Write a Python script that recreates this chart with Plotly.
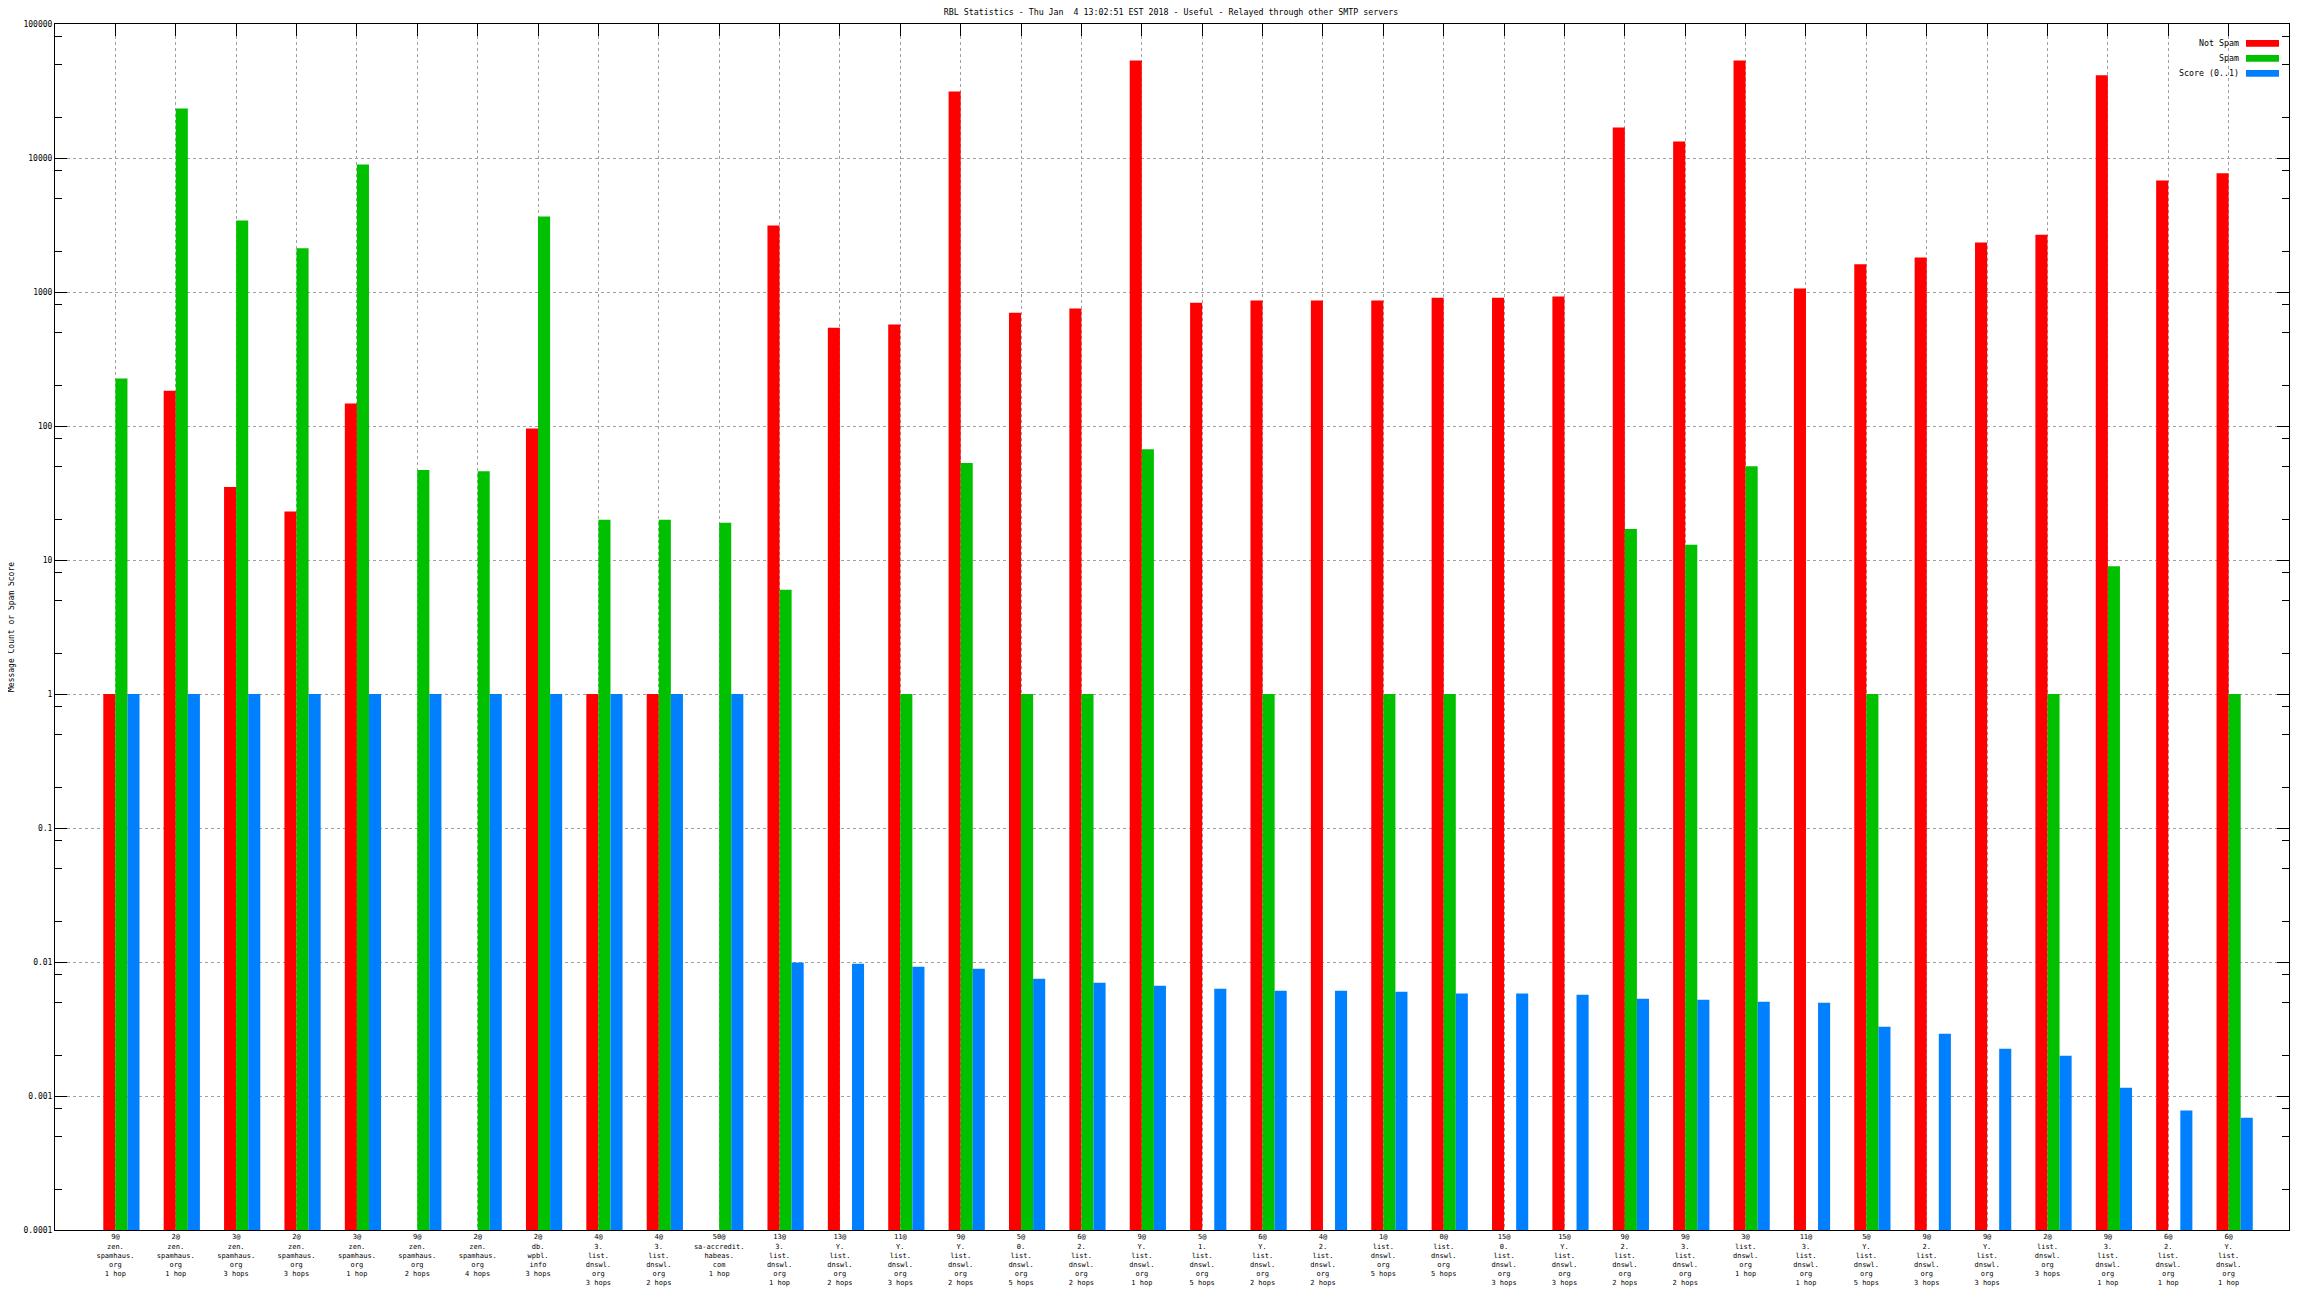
import plotly.graph_objects as go

# ---- data ----
categories = [
    "9@<br>zen.<br>spamhaus.<br>org<br>1 hop",
    "2@<br>zen.<br>spamhaus.<br>org<br>1 hop",
    "3@<br>zen.<br>spamhaus.<br>org<br>3 hops",
    "2@<br>zen.<br>spamhaus.<br>org<br>3 hops",
    "3@<br>zen.<br>spamhaus.<br>org<br>1 hop",
    "9@<br>zen.<br>spamhaus.<br>org<br>2 hops",
    "2@<br>zen.<br>spamhaus.<br>org<br>4 hops",
    "2@<br>db.<br>wpbl.<br>info<br>3 hops",
    "4@<br>3.<br>list.<br>dnswl.<br>org<br>3 hops",
    "4@<br>3.<br>list.<br>dnswl.<br>org<br>2 hops",
    "50@<br>sa-accredit.<br>habeas.<br>com<br>1 hop",
    "13@<br>3.<br>list.<br>dnswl.<br>org<br>1 hop",
    "13@<br>Y.<br>list.<br>dnswl.<br>org<br>2 hops",
    "11@<br>Y.<br>list.<br>dnswl.<br>org<br>3 hops",
    "9@<br>Y.<br>list.<br>dnswl.<br>org<br>2 hops",
    "5@<br>0.<br>list.<br>dnswl.<br>org<br>5 hops",
    "6@<br>2.<br>list.<br>dnswl.<br>org<br>2 hops",
    "9@<br>Y.<br>list.<br>dnswl.<br>org<br>1 hop",
    "5@<br>1.<br>list.<br>dnswl.<br>org<br>5 hops",
    "6@<br>Y.<br>list.<br>dnswl.<br>org<br>2 hops",
    "4@<br>2.<br>list.<br>dnswl.<br>org<br>2 hops",
    "1@<br>list.<br>dnswl.<br>org<br>5 hops",
    "0@<br>list.<br>dnswl.<br>org<br>5 hops",
    "15@<br>0.<br>list.<br>dnswl.<br>org<br>3 hops",
    "15@<br>Y.<br>list.<br>dnswl.<br>org<br>3 hops",
    "9@<br>2.<br>list.<br>dnswl.<br>org<br>2 hops",
    "9@<br>3.<br>list.<br>dnswl.<br>org<br>2 hops",
    "3@<br>list.<br>dnswl.<br>org<br>1 hop",
    "11@<br>3.<br>list.<br>dnswl.<br>org<br>1 hop",
    "5@<br>Y.<br>list.<br>dnswl.<br>org<br>5 hops",
    "9@<br>2.<br>list.<br>dnswl.<br>org<br>3 hops",
    "9@<br>Y.<br>list.<br>dnswl.<br>org<br>3 hops",
    "2@<br>list.<br>dnswl.<br>org<br>3 hops",
    "9@<br>3.<br>list.<br>dnswl.<br>org<br>1 hop",
    "6@<br>2.<br>list.<br>dnswl.<br>org<br>1 hop",
    "6@<br>Y.<br>list.<br>dnswl.<br>org<br>1 hop",
]

not_spam = [1, 183, 35, 23, 147, None, None, 96, 1, 1,
            None, 3140, 542, 571, 31400, 701, 754, 53500, 832, 865,
            865, 865, 906, 906, 924, 16900, 13300, 53500, 1060, 1610,
            1810, 2340, 2680, 41400, 6780, 7690]

spam = [226, 23400, 3420, 2120, 8940, 47, 46, 3660, 20, 20,
        19, 6, None, 1, 53, 1, 1, 67, None, 1,
        None, 1, 1, None, None, 17, 13, 50, None, 1,
        None, None, 1, 9, None, 1]

score = [1, 1, 1, 1, 1, 1, 1, 1, 1, 1,
         1, 0.0099, 0.00972, 0.00923, 0.00892, 0.00751, 0.00701, 0.00666, 0.00632, 0.0061,
         0.0061, 0.00601, 0.00581, 0.00581, 0.0057, 0.00532, 0.00523, 0.00506, 0.00497, 0.00329,
         0.00292, 0.00225, 0.002, 0.00115, 0.000778, 0.000689]

series_names = ["Not Spam", "Spam", "Score (0..1)"]
series_colors = ["#ff0000", "#00c000", "#0080ff"]

ytick_vals = [0.0001, 0.001, 0.01, 0.1, 1, 10, 100, 1000, 10000, 100000]
ytick_text = ["0.0001", "0.001", "0.01", "0.1", "1", "10", "100", "1000", "10000", "100000"]
yminor_vals = [m * v for v in ytick_vals[:-1] for m in (2, 5, 8)]

title_text = "RBL Statistics - Thu Jan  4 13:02:51 EST 2018 - Useful - Relayed through other SMTP servers"
ytitle_text = "Message Count or Spam Score"

FONT = "DejaVu Sans Mono"
W, H = 2304, 1296
OFF = 8  # the page body margin shifts the figure; positions below are in page pixels
PL, PR, PT, PB = 55, 2289, 24, 1230   # plot-area edges in page pixels
ML, MR, MT, MB = PL - OFF, W - (PR - OFF), PT - OFF, H - (PB - OFF)
pw, ph = W - ML - MR, H - MT - MB

x_idx = list(range(len(categories)))
bar_w = 0.2

fig = go.Figure()
for k, (name, vals, col) in enumerate(zip(series_names, [not_spam, spam, score], series_colors)):
    fig.add_trace(go.Bar(
        x=x_idx, y=vals, name=name, marker=dict(color=col, line=dict(width=0)),
        width=bar_w, offset=-bar_w + k * bar_w, showlegend=False,
    ))

# helper (invisible) trace so the top mirrored axis exists
fig.add_trace(go.Scatter(x=x_idx, y=[None] * len(x_idx), xaxis="x2", mode="none",
                         showlegend=False, hoverinfo="skip"))

grid_col = "#a0a0a0"
grid_dash = "3px,3px"
fig.update_layout(
    width=W, height=H,
    margin=dict(l=ML, r=MR, t=MT, b=MB, autoexpand=False),
    paper_bgcolor="white", plot_bgcolor="white",
    barmode="overlay",
    font=dict(family=FONT, size=8, color="black"),
    title=dict(text=title_text, x=(1171 - OFF) / W, xref="container", xanchor="center",
               y=1 - (12.5 - OFF) / H, yref="container", yanchor="middle",
               font=dict(family=FONT, size=8.3, color="black")),
    xaxis=dict(
        range=[-1, 36], tickmode="array", tickvals=x_idx, ticktext=categories,
        tickangle=0, ticks="", showgrid=True, gridcolor=grid_col, griddash=grid_dash, gridwidth=1,
        showline=True, linecolor="black", linewidth=1, zeroline=False,
        tickfont=dict(family=FONT, size=7, color="black"), automargin=False,
    ),
    xaxis2=dict(
        range=[-1, 36], overlaying="x", side="top", anchor="y", tickmode="array",
        tickvals=x_idx, showticklabels=False, ticks="inside", ticklen=12, tickcolor="black",
        showgrid=False, showline=True, linecolor="black", linewidth=1, zeroline=False,
    ),
    yaxis=dict(
        type="log", range=[-4, 5], tickmode="array", tickvals=ytick_vals, ticktext=ytick_text,
        ticks="inside", ticklen=12, tickcolor="black", mirror="ticks",
        showline=True, linecolor="black", linewidth=1,
        showgrid=True, gridcolor=grid_col, griddash=grid_dash, gridwidth=1, zeroline=False,
        tickfont=dict(family=FONT, size=8, color="black"), automargin=False,
        minor=dict(tickmode="array", tickvals=yminor_vals, ticks="inside", ticklen=7,
                   tickcolor="black", showgrid=False),
    ),
)

# y-axis title (kept just inside the figure's left edge)
fig.add_annotation(text=ytitle_text, xref="paper", yref="paper",
                   x=(3 - ML) / pw, y=0.5, textangle=-90, showarrow=False,
                   xanchor="center", yanchor="middle",
                   font=dict(family=FONT, size=8, color="black"))

# legend (text right-aligned, swatch on the right, as in gnuplot)
row_y = [43.3, 58.3, 73.3]
for name, col, ry in zip(series_names, series_colors, row_y):
    yp = 1 - (ry - PT) / ph
    fig.add_annotation(text=name, xref="paper", yref="paper", x=(2241 - PL) / pw, y=yp,
                       xanchor="right", yanchor="middle", showarrow=False,
                       font=dict(family=FONT, size=8.3, color="black"))
    fig.add_shape(type="rect", xref="paper", yref="paper",
                  x0=(2246 - PL) / pw, x1=(2279 - PL) / pw,
                  y0=yp - 3.4 / ph, y1=yp + 3.4 / ph,
                  fillcolor=col, line=dict(width=0))

fig.write_html("out.html")
